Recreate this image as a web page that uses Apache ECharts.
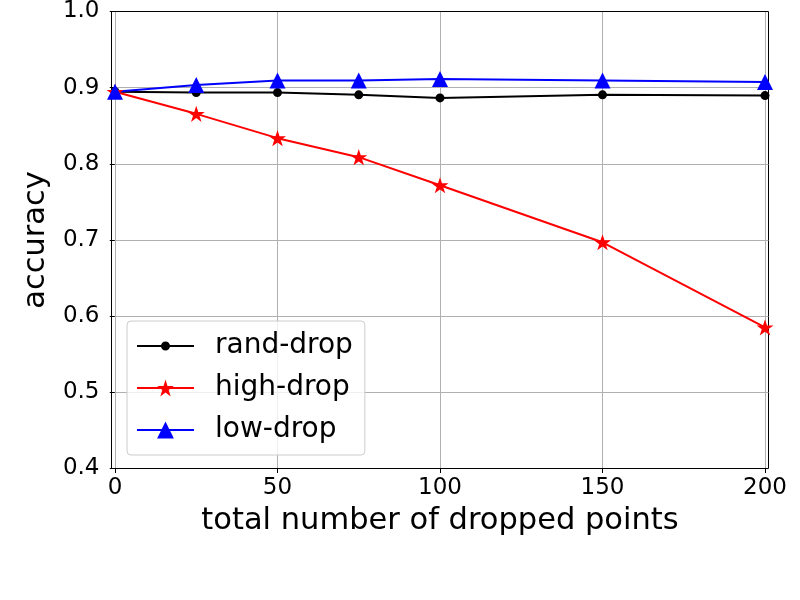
<!DOCTYPE html>
<html>
<head>
<meta charset="utf-8">
<script src="https://cdn.jsdelivr.net/npm/echarts@6/dist/echarts.min.js"></script>
<style>
  html, body { margin: 0; padding: 0; background: #fff; }
  #chart { width: 800px; height: 600px; }
</style>
</head>
<body>
<div id="chart"></div>
<script>
// data
const dropCounts = [0, 25, 50, 75, 100, 150, 200];
const randDrop = [0.895, 0.894, 0.894, 0.891, 0.887, 0.891, 0.890];
const highDrop = [0.895, 0.866, 0.834, 0.809, 0.772, 0.697, 0.585];
const lowDrop  = [0.895, 0.904, 0.910, 0.910, 0.912, 0.910, 0.908];
const seriesNames = ['rand-drop', 'high-drop', 'low-drop'];

const font = 'DejaVu Sans';
// matplotlib '*' marker
const starPath = 'path://M100,0 L122.45,69.1 L195.11,69.1 L136.33,111.8 L158.78,180.9 L100,138.2 L41.22,180.9 L63.67,111.8 L4.89,69.1 L77.55,69.1 Z';
// legend icon: line with a small dot
const dotLinePath = 'path://M0,4 L57,4 L57,6 L0,6 Z M24,5 A4.5,4.5 0 1 1 33,5 A4.5,4.5 0 1 1 24,5 Z';

function pairs(ys) {
  return dropCounts.map((x, i) => [x, ys[i]]);
}

const chart = echarts.init(document.getElementById('chart'));
const option = {
  animation: false,
  backgroundColor: '#fff',
  textStyle: { fontFamily: font },
  grid: [
    // frame (axes box), x range -1..201 ; half pixels keep the border crisp
    { left: 111.5, right: 31.5, top: 11.5, bottom: 131.5, show: true, borderColor: '#000', borderWidth: 1 },
    // data area, x range 0..200
    { left: 115, right: 35, top: 12, bottom: 132 }
  ],
  xAxis: [
    { gridIndex: 0, type: 'value', min: -1, max: 201, show: false },
    {
      gridIndex: 1, type: 'value', min: 0, max: 200, interval: 50,
      axisLine: { show: false },
      axisTick: { show: true, length: 5, lineStyle: { color: '#000' } },
      axisLabel: { fontSize: 23, color: '#000', margin: 9, fontFamily: font },
      splitLine: { show: true, lineStyle: { color: '#b0b0b0', width: 1 } },
      name: 'total number of dropped points',
      nameLocation: 'middle',
      nameGap: 38,
      nameTextStyle: { fontSize: 30.5, color: '#000', fontFamily: font }
    }
  ],
  yAxis: [
    {
      gridIndex: 0, type: 'value', min: 0.4, max: 1.0, interval: 0.1,
      axisLine: { show: false },
      axisTick: { show: true, length: 5, lineStyle: { color: '#000' } },
      axisLabel: { fontSize: 23, color: '#000', margin: 12, fontFamily: font,
        formatter: v => v.toFixed(1) },
      splitLine: { show: true, showMinLine: false, showMaxLine: false,
        lineStyle: { color: '#b0b0b0', width: 1 } },
      name: 'accuracy',
      nameLocation: 'middle',
      nameGap: 49,
      nameTextStyle: { fontSize: 30.5, color: '#000', fontFamily: font }
    },
    { gridIndex: 1, type: 'value', min: 0.4, max: 1.0, show: false }
  ],
  legend: {
    orient: 'vertical',
    left: 127,
    top: 321,
    padding: [11, 12, 11, 9],
    itemGap: 14,
    itemWidth: 57,
    itemHeight: 21,
    selectedMode: false,
    backgroundColor: 'rgba(255,255,255,0.8)',
    borderColor: '#cccccc',
    borderWidth: 1,
    borderRadius: 4,
    itemStyle: { borderWidth: 0 },
    textStyle: { fontSize: 28, color: '#000', fontFamily: font, padding: [0, 0, 0, 16] },
    data: [
      { name: seriesNames[0], icon: dotLinePath },
      { name: seriesNames[1] },
      { name: seriesNames[2] }
    ]
  },
  series: [
    {
      name: seriesNames[0], type: 'line', xAxisIndex: 1, yAxisIndex: 1,
      data: pairs(randDrop),
      symbol: 'circle', symbolSize: 9,
      lineStyle: { color: '#000', width: 2 },
      itemStyle: { color: '#000', borderWidth: 0 }
    },
    {
      name: seriesNames[1], type: 'line', xAxisIndex: 1, yAxisIndex: 1,
      data: pairs(highDrop),
      symbol: starPath, symbolSize: 17, symbolKeepAspect: true,
      lineStyle: { color: '#ff0000', width: 2 },
      itemStyle: { color: '#ff0000', borderWidth: 0 }
    },
    {
      name: seriesNames[2], type: 'line', xAxisIndex: 1, yAxisIndex: 1,
      data: pairs(lowDrop),
      symbol: 'triangle', symbolSize: 16,
      lineStyle: { color: '#0000ff', width: 2 },
      itemStyle: { color: '#0000ff', borderWidth: 0 }
    }
  ]
};
chart.setOption(option);
</script>
</body>
</html>
